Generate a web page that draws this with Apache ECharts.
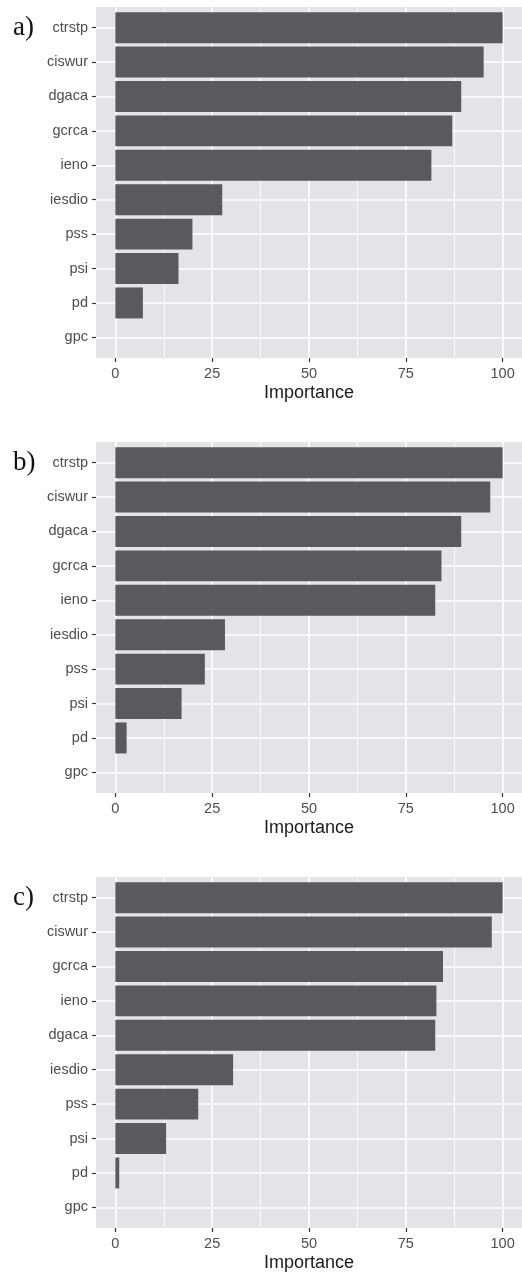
<!DOCTYPE html>
<html>
<head>
<meta charset="utf-8">
<script src="https://cdn.jsdelivr.net/npm/echarts@6/dist/echarts.min.js"></script>
<style>
  html, body { margin: 0; padding: 0; background: #ffffff; }
  #chart { width: 522px; height: 1274px; }
</style>
</head>
<body>
<div id="chart"></div>
<script>
// Variable importance, three model variants
const categoriesA = ['ctrstp', 'ciswur', 'dgaca', 'gcrca', 'ieno', 'iesdio', 'pss', 'psi', 'pd', 'gpc'];
const importanceA = [100, 95.1, 89.3, 87.0, 81.6, 27.6, 19.9, 16.3, 7.1, 0];

const categoriesB = ['ctrstp', 'ciswur', 'dgaca', 'gcrca', 'ieno', 'iesdio', 'pss', 'psi', 'pd', 'gpc'];
const importanceB = [100, 96.8, 89.3, 84.2, 82.6, 28.3, 23.1, 17.1, 2.9, 0];

const categoriesC = ['ctrstp', 'ciswur', 'gcrca', 'ieno', 'dgaca', 'iesdio', 'pss', 'psi', 'pd', 'gpc'];
const importanceC = [100, 97.2, 84.6, 82.9, 82.6, 30.4, 21.4, 13.1, 1.0, 0];

const xTickValues = [0, 25, 50, 75, 100];
const xMinorValues = [12.5, 37.5, 62.5, 87.5];
const panelLabels = ['a)', 'b)', 'c)'];
const xTitle = 'Importance';

const panels = [
  { cats: categoriesA, vals: importanceA },
  { cats: categoriesB, vals: importanceB },
  { cats: categoriesC, vals: importanceC }
];

const PANEL_TOP = [7, 442, 877];
const PANEL_H = 351;
const BG = '#E4E4E6';
const BAR = '#5A5A5C';
const SANS = 'Liberation Sans, Arial, Helvetica, sans-serif';

function renderBar(params, api) {
  const v = api.value(0);
  const idx = api.value(1);
  const start = api.coord([0, idx]);
  const end = api.coord([v, idx]);
  const h = Math.abs(api.size([0, 1])[1]) * 0.9;
  return {
    type: 'rect',
    shape: { x: start[0], y: start[1] - h / 2, width: end[0] - start[0], height: h },
    style: { fill: BAR }
  };
}

const grid = [], xAxis = [], yAxis = [], series = [], title = [];

panels.forEach((p, k) => {
  grid.push({
    left: 96, right: 0, top: PANEL_TOP[k], height: PANEL_H,
    show: true, backgroundColor: BG, borderWidth: 0
  });

  // major x axis with ticks, labels and title
  xAxis.push({
    type: 'value', gridIndex: k, min: -5, max: 105, position: 'bottom',
    axisLine: { show: false, onZero: false },
    axisTick: { show: true, length: 4, customValues: xTickValues, lineStyle: { color: '#333333', width: 1.2 } },
    axisLabel: { customValues: xTickValues, margin: 8, color: '#4D4D4D', fontSize: 14.5, fontFamily: SANS },
    splitLine: { show: true, lineStyle: { color: '#ffffff', width: 1.6 } },
    name: xTitle, nameLocation: 'middle', nameGap: 26,
    nameTextStyle: { color: '#1a1a1a', fontSize: 18, fontFamily: SANS }
  });
  // minor vertical grid lines
  xAxis.push({
    type: 'value', gridIndex: k, min: -5, max: 105, position: 'bottom',
    axisLine: { show: false, onZero: false },
    axisTick: { show: false, customValues: xMinorValues },
    axisLabel: { show: false, customValues: xMinorValues },
    splitLine: { show: true, lineStyle: { color: '#ffffff', width: 0.8 } }
  });

  const idxs = p.cats.map((_, i) => i);
  yAxis.push({
    type: 'value', gridIndex: k, inverse: true, position: 'left',
    min: -0.6, max: p.cats.length - 0.4,
    axisLine: { show: false, onZero: false },
    axisTick: { show: true, length: 4, customValues: idxs, lineStyle: { color: '#333333', width: 1.2 } },
    axisLabel: {
      customValues: idxs, margin: 8, color: '#4D4D4D', fontSize: 14.5, fontFamily: SANS,
      formatter: v => p.cats[Math.round(v)]
    },
    splitLine: { show: true, lineStyle: { color: '#ffffff', width: 1.6 } }
  });

  series.push({
    type: 'custom', xAxisIndex: 2 * k, yAxisIndex: k,
    renderItem: renderBar,
    encode: { x: 0, y: 1 },
    data: p.vals.map((v, i) => [v, i])
  });

  title.push({
    text: panelLabels[k], left: 13, top: PANEL_TOP[k] + 7, padding: 0,
    textStyle: { fontFamily: 'Liberation Serif, Times New Roman, serif', fontWeight: 'normal', fontSize: 27, color: '#111111' }
  });
});

const chart = echarts.init(document.getElementById('chart'), null, { renderer: 'canvas' });
chart.setOption({
  animation: false,
  backgroundColor: '#ffffff',
  title, grid, xAxis, yAxis, series
});
</script>
</body>
</html>
